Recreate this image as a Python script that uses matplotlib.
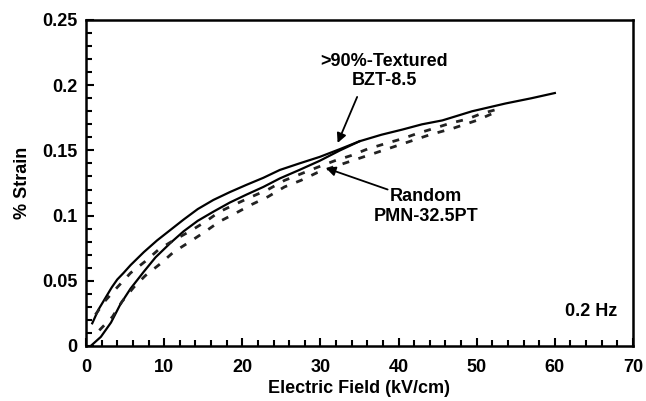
import matplotlib
matplotlib.use('Agg')
import matplotlib.pyplot as plt
from matplotlib.ticker import MultipleLocator

plt.rcParams['font.family'] = ['Liberation Sans', 'DejaVu Sans']
plt.rcParams['font.weight'] = 'bold'

# textured BZT-8.5, solid loop
tex_up_x = [0.8, 1.6, 2.5, 3.3, 4.0, 4.8, 5.7, 7.4, 9.1, 10.8, 12.5, 14.3, 16.3, 18.4, 20.5, 22.7, 24.8, 27.3, 29.9, 32.5, 35.0, 37.8, 40.5, 43.0, 45.6, 49.4, 53.7, 57.0, 60.0]
tex_up_y = [0.0174, 0.028, 0.037, 0.045, 0.051, 0.056, 0.062, 0.072, 0.081, 0.089, 0.097, 0.105, 0.112, 0.118, 0.1235, 0.129, 0.135, 0.140, 0.145, 0.151, 0.157, 0.162, 0.166, 0.170, 0.173, 0.180, 0.186, 0.190, 0.194]
tex_dn_x = [0.6, 1.9, 3.2, 4.4, 5.7, 7.4, 8.9, 10.8, 12.5, 14.3, 16.3, 18.4, 20.5, 22.7, 24.8, 27.3, 29.9, 32.5, 35.0]
tex_dn_y = [0.000, 0.007, 0.018, 0.032, 0.044, 0.057, 0.068, 0.079, 0.088, 0.096, 0.103, 0.110, 0.116, 0.122, 0.1285, 0.135, 0.142, 0.150, 0.157]

# random PMN-32.5PT, dashed loop
rnd_up_x = [1.2, 2.5, 4.0, 5.7, 7.6, 9.3, 11.2, 13.3, 15.2, 17.1, 19.2, 21.2, 23.3, 25.4, 27.5, 29.6, 31.8, 33.9, 36.0, 38.2, 40.5, 42.4, 44.6, 46.7, 48.8, 50.5, 52.3]
rnd_up_y = [0.024, 0.035, 0.045, 0.056, 0.065, 0.074, 0.081, 0.088, 0.095, 0.103, 0.109, 0.1145, 0.120, 0.127, 0.132, 0.137, 0.142, 0.146, 0.151, 0.155, 0.159, 0.163, 0.167, 0.171, 0.174, 0.178, 0.181]
rnd_dn_x = [1.7, 3.4, 4.6, 6.1, 7.6, 9.5, 11.2, 13.3, 15.2, 17.1, 19.2, 21.2, 23.3, 25.4, 27.5, 29.6, 32.0, 35.0, 38.0, 41.0, 44.0, 47.0, 50.0, 52.3]
rnd_dn_y = [0.012, 0.0225, 0.034, 0.045, 0.054, 0.063, 0.072, 0.080, 0.0875, 0.0955, 0.102, 0.1085, 0.1145, 0.122, 0.127, 0.133, 0.138, 0.144, 0.150, 0.156, 0.162, 0.167, 0.173, 0.179]

fig = plt.figure(figsize=(6.46, 4.01), dpi=100)
ax = fig.add_axes([86/646, 1 - 346/401, (633 - 86)/646, (346 - 20)/401])

ax.plot(tex_up_x, tex_up_y, color='black', lw=1.6)
ax.plot(tex_dn_x, tex_dn_y, color='black', lw=1.6)
ax.plot(rnd_up_x, rnd_up_y, color='#222222', lw=2.0, dashes=(2.5, 3.5))
ax.plot(rnd_dn_x, rnd_dn_y, color='#222222', lw=2.0, dashes=(2.5, 3.5))

ax.set_xlim(0, 70)
ax.set_ylim(0, 0.25)
ax.xaxis.set_major_locator(MultipleLocator(10))
ax.xaxis.set_minor_locator(MultipleLocator(2))
ax.yaxis.set_minor_locator(MultipleLocator(0.01))
ax.set_yticks([0, 0.05, 0.1, 0.15, 0.2, 0.25])
ax.set_yticklabels(['0', '0.05', '0.1', '0.15', '0.2', '0.25'])
ax.tick_params(which='both', direction='in', width=1.5, labelsize=13)
ax.tick_params(axis='y', pad=6)
ax.tick_params(axis='x', pad=9)
ax.tick_params(which='major', length=6)
ax.tick_params(which='minor', length=4)
for s in ax.spines.values():
    s.set_linewidth(1.8)

ax.set_xlabel('Electric Field (kV/cm)', fontsize=13, fontweight='bold', labelpad=3)
ax.set_ylabel('% Strain', fontsize=13, fontweight='bold', labelpad=8)

arrow = dict(arrowstyle='-|>', color='black', lw=1.3, mutation_scale=14, shrinkA=0, shrinkB=0)
ax.text(38.2, 0.211, '>90%-Textured\nBZT-8.5', ha='center', va='center', fontsize=13, fontweight='bold', linespacing=1.2)
ax.annotate('', xy=(32.2, 0.1557), xytext=(34.7, 0.191), arrowprops=arrow)
ax.text(43.5, 0.107, 'Random\nPMN-32.5PT', ha='center', va='center', fontsize=13, fontweight='bold', linespacing=1.2)
ax.annotate('', xy=(30.7, 0.1365), xytext=(38.6, 0.120), arrowprops=arrow)
ax.text(64.6, 0.0265, '0.2 Hz', ha='center', va='center', fontsize=13, fontweight='bold')

fig.savefig('out.png', dpi=100)
